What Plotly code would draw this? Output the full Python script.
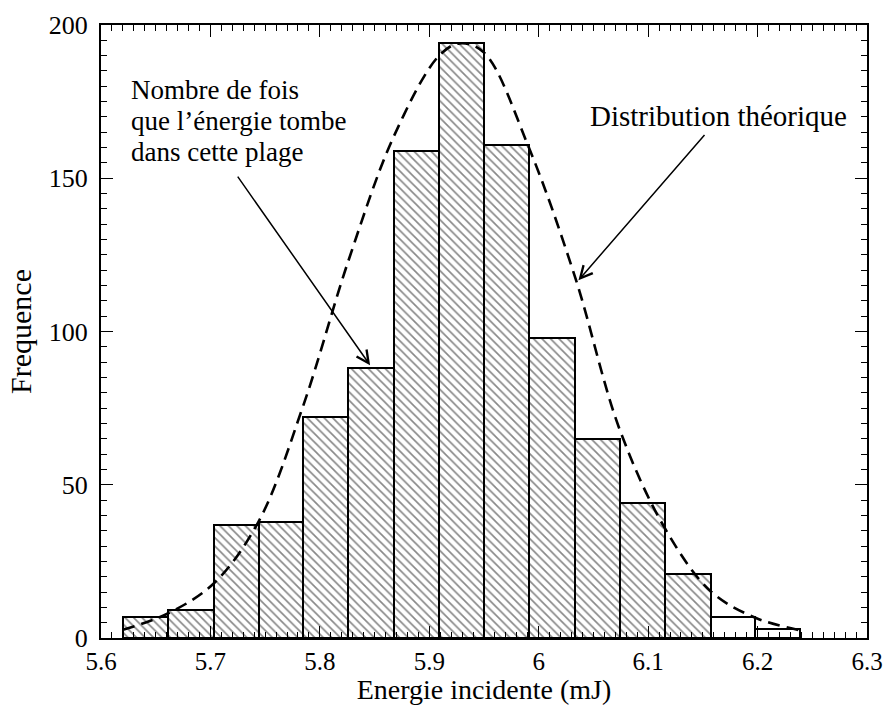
import plotly.graph_objects as go

# Histogram bins (mJ) and counts
bin_edges = [5.620, 5.661, 5.703, 5.744, 5.785, 5.826, 5.868, 5.909,
             5.950, 5.991, 6.033, 6.074, 6.115, 6.157, 6.198, 6.239]
counts = [7, 9, 37, 38, 72, 88, 159, 194, 161, 98, 65, 44, 21, 7, 3]
hatched = [True] * 13 + [False, False]

# Theoretical distribution sampled along the energy axis
curve_x = [5.620, 5.661, 5.703, 5.744, 5.785, 5.826, 5.868, 5.909, 5.928,
           5.950, 5.991, 6.033, 6.074, 6.115, 6.157, 6.198, 6.239]
curve_y = [2.7, 8.0, 17.8, 38, 76, 123, 164, 190, 194,
           191, 160, 118, 68, 36, 15.3, 6.6, 2.5]

x_ticks = [5.6, 5.7, 5.8, 5.9, 6.0, 6.1, 6.2, 6.3]
y_ticks = [0, 50, 100, 150, 200]

# Annotation lines (left block) and their vertical positions in data units
note_lines = ["Nombre de fois", "que l’énergie tombe", "dans cette plage"]
note_y = [178.7, 168.6, 158.5]

centers = [(a + b) / 2 for a, b in zip(bin_edges[:-1], bin_edges[1:])]
widths = [b - a for a, b in zip(bin_edges[:-1], bin_edges[1:])]

FONT = "Liberation Serif"

fig = go.Figure()
fig.add_trace(go.Bar(
    x=centers, y=counts, width=widths,
    marker=dict(
        color="white",
        line=dict(color="black", width=2),
        pattern=dict(
            shape=["\\" if h else "" for h in hatched],
            fgcolor="#111", bgcolor="white", size=6, solidity=0.28,
        ),
    ),
    showlegend=False, hoverinfo="skip",
))
fig.add_trace(go.Scatter(
    x=curve_x, y=curve_y, mode="lines",
    line=dict(color="black", width=2.6, dash="12px,7px", shape="spline", smoothing=1.0),
    showlegend=False, hoverinfo="skip",
))

axis_common = dict(
    showline=True, linecolor="black", linewidth=2, mirror="ticks",
    ticks="inside", ticklen=12, tickwidth=1.3, tickcolor="black",
    showgrid=False, zeroline=False, automargin=False,
)

fig.update_xaxes(
    range=[5.6, 6.3], tickvals=x_ticks, ticklabelstandoff=0,
    tickfont=dict(family=FONT, size=25, color="black"),
    minor=dict(ticks="inside", ticklen=6, dtick=0.01, tick0=5.6, tickcolor="black", tickwidth=1),
    title=dict(text="Energie incidente (mJ)", font=dict(family=FONT, size=28, color="black"), standoff=8),
    **axis_common,
)
fig.update_yaxes(
    range=[0, 200], tickvals=y_ticks, ticklabelstandoff=6,
    tickfont=dict(family=FONT, size=26, color="black"),
    minor=dict(ticks="inside", ticklen=6, dtick=5, tick0=0, tickcolor="black", tickwidth=1),
    title=dict(text="Frequence", font=dict(family=FONT, size=30, color="black"), standoff=8),
    **axis_common,
)

for line, yv in zip(note_lines, note_y):
    fig.add_annotation(
        x=5.6256, y=yv, xref="x", yref="y", xanchor="left", yanchor="middle",
        text=line, align="left", showarrow=False,
        font=dict(family=FONT, size=27, color="black"),
    )
fig.add_annotation(
    x=5.8459, y=89, ax=5.724, ay=151, xref="x", yref="y", axref="x", ayref="y",
    text="", showarrow=True, arrowhead=5, arrowsize=1.6, arrowwidth=1.5, arrowcolor="black",
)
fig.add_annotation(
    x=6.164, y=170.3, xref="x", yref="y", xanchor="center", yanchor="middle",
    text="Distribution théorique", showarrow=False,
    font=dict(family=FONT, size=29, color="black"),
)
fig.add_annotation(
    x=6.0363, y=116.7, ax=6.1527, ay=164.6, xref="x", yref="y", axref="x", ayref="y",
    text="", showarrow=True, arrowhead=5, arrowsize=1.6, arrowwidth=1.5, arrowcolor="black",
)

fig.update_layout(
    width=889, height=705,
    margin=dict(l=101, r=22, t=25, b=67, autoexpand=False),
    paper_bgcolor="white", plot_bgcolor="white",
    bargap=0,
    font=dict(family=FONT, color="black"),
)

fig.write_html("out.html")
